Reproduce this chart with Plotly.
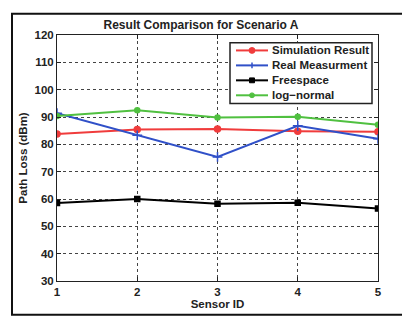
import plotly.graph_objects as go

sensor_ids = [1, 2, 3, 4, 5]
simulation = [83.8, 85.4, 85.6, 84.8, 84.6]
real_meas = [91.4, 83.3, 75.4, 86.8, 82.0]
freespace = [58.5, 60.0, 58.3, 58.6, 56.5]
log_normal = [90.4, 92.5, 89.8, 90.1, 87.2]

series = [
    ("Simulation Result", simulation, "#f03c3c", "circle", 6),
    ("Real Measurment", real_meas, "#3050c8", "cross-thin", 7),
    ("Freespace", freespace, "#000000", "square", 5),
    ("log\u2212normal", log_normal, "#50c040", "circle", 5),
]

W, H = 402, 320
L, R, T, B = 57, 24, 35, 30
PW, PH = W - L - R, H - T - B


def px(x):
    return (x - L) / PW


def py(y):
    return (H - B - y) / PH


fig = go.Figure()
for name, vals, col, sym, sz in series:
    fig.add_trace(go.Scatter(
        x=sensor_ids, y=vals, name=name, mode="lines+markers",
        line=dict(color=col, width=2),
        marker=dict(color=col, symbol=sym, size=sz, line=dict(color=col, width=1.5)),
        showlegend=False,
    ))

FAM = "Liberation Sans, Arial"
font = dict(family=FAM, size=11.5, color="#222", weight="bold")
axis_common = dict(
    showline=True, linecolor="#222", linewidth=1, mirror="ticks",
    ticks="inside", ticklen=4, tickcolor="#222",
    showgrid=True, gridcolor="#444", griddash="dot", gridwidth=1,
    zeroline=False, tickfont=font,
)
fig.update_layout(
    width=W, height=H,
    margin=dict(l=L, r=R, t=T, b=B),
    paper_bgcolor="white", plot_bgcolor="white",
    font=font, showlegend=False,
    title=dict(text="Result Comparison for Scenario A", x=0.5, xanchor="center",
               y=0.922, yanchor="middle", font=dict(size=12, weight="bold", color="#222", family=FAM)),
    xaxis=dict(range=[1, 5], tickvals=sensor_ids, title=dict(text="Sensor ID", standoff=2, font=font), **axis_common),
    yaxis=dict(range=[30, 120], dtick=10, title=dict(text="Path Loss (dBm)", standoff=4, font=font), **axis_common),
)

# outer frame
fig.add_shape(type="rect", xref="paper", yref="paper",
              x0=px(12), x1=px(404), y0=py(325), y1=py(13),
              line=dict(color="#111", width=2), layer="below")

# legend box (drawn manually for compact Matlab-style spacing)
fig.add_shape(type="rect", xref="paper", yref="paper",
              x0=px(230), x1=px(372), y0=py(106), y1=py(43),
              line=dict(color="#222", width=1.5), fillcolor="white", layer="above")
item_y = [51, 66.5, 82, 97.5]
for (name, vals, col, sym, sz), yy in zip(series, item_y):
    fig.add_shape(type="line", xref="paper", yref="paper",
                  x0=px(236), x1=px(268), y0=py(yy), y1=py(yy),
                  line=dict(color=col, width=2), layer="above")
    cx = 252
    if sym == "cross-thin":
        fig.add_shape(type="line", xref="paper", yref="paper",
                      x0=px(cx), x1=px(cx), y0=py(yy - 3), y1=py(yy + 3),
                      line=dict(color=col, width=1.5), layer="above")
    elif sym == "square":
        fig.add_shape(type="rect", xref="paper", yref="paper",
                      x0=px(cx - 2.5), x1=px(cx + 2.5), y0=py(yy + 2.5), y1=py(yy - 2.5),
                      line=dict(color=col, width=1), fillcolor=col, layer="above")
    else:
        r = sz / 2
        fig.add_shape(type="circle", xref="paper", yref="paper",
                      x0=px(cx - r), x1=px(cx + r), y0=py(yy + r), y1=py(yy - r),
                      line=dict(color=col, width=1), fillcolor=col, layer="above")
    fig.add_annotation(xref="paper", yref="paper", x=px(270), y=py(yy),
                       text=name, showarrow=False, xanchor="left", yanchor="middle",
                       font=dict(family=FAM, size=11.5, weight="bold", color="#222"))

fig.write_html("out.html")
